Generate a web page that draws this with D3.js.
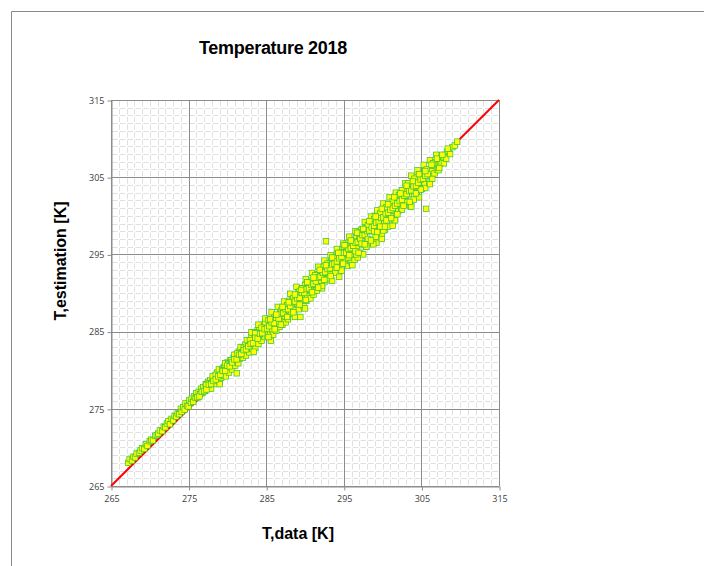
<!DOCTYPE html>
<html>
<head>
<meta charset="utf-8">
<script src="https://cdn.jsdelivr.net/npm/d3@7"></script>
<style>
  body { margin: 0; background: #fff; }
  svg { display: block; }
</style>
</head>
<body>
<script>
// axis ticks (K)
const tickValues = [265, 275, 285, 295, 305, 315];

const tData = [
  267.2, 267.4, 267.7, 267.9, 268.1, 268.3, 268.6, 268.8, 269.0, 269.3,
  269.5, 269.7, 270.0, 270.2, 270.4, 270.7, 270.9, 271.1, 271.3, 271.6,
  271.8, 272.0, 272.2, 272.4, 272.6, 272.8, 273.0, 273.2, 273.4, 273.6,
  273.8, 274.0, 274.1, 274.3, 274.5, 274.6, 274.8, 275.0, 275.1, 275.3,
  275.4, 275.6, 275.7, 275.9, 276.0, 276.2, 276.3, 276.5, 276.6, 276.8,
  276.9, 277.1, 277.2, 277.4, 277.5, 277.6, 277.8, 277.9, 278.0, 278.2,
  278.3, 278.4, 278.6, 278.7, 278.8, 279.0, 279.1, 279.2, 279.4, 279.5,
  279.6, 279.8, 279.9, 280.0, 280.2, 280.3, 280.4, 280.6, 280.7, 280.8,
  281.0, 281.1, 281.2, 281.4, 281.5, 281.6, 281.8, 281.9, 282.0, 282.2,
  282.3, 282.4, 282.6, 282.7, 282.8, 283.0, 283.1, 283.2, 283.4, 283.5,
  283.6, 283.8, 283.9, 284.0, 284.2, 284.3, 284.4, 284.6, 284.7, 284.8,
  285.0, 285.1, 285.2, 285.4, 285.5, 285.6, 285.8, 285.9, 286.0, 286.2,
  286.3, 286.4, 286.6, 286.7, 286.8, 287.0, 287.1, 287.2, 287.4, 287.5,
  287.6, 287.8, 287.9, 288.0, 288.2, 288.3, 288.4, 288.6, 288.7, 288.8,
  289.0, 289.1, 289.2, 289.4, 289.5, 289.6, 289.8, 289.9, 290.0, 290.2,
  290.3, 290.4, 290.6, 290.7, 290.8, 291.0, 291.1, 291.2, 291.4, 291.5,
  291.6, 291.8, 291.9, 292.0, 292.2, 292.3, 292.4, 292.6, 292.7, 292.8,
  293.0, 293.1, 293.2, 293.4, 293.5, 293.6, 293.8, 293.9, 294.0, 294.2,
  294.3, 294.4, 294.6, 294.7, 294.8, 295.0, 295.1, 295.2, 295.4, 295.5,
  295.6, 295.8, 295.9, 296.0, 296.2, 296.3, 296.4, 296.6, 296.7, 296.8,
  297.0, 297.1, 297.2, 297.4, 297.5, 297.6, 297.8, 297.9, 298.0, 298.2,
  298.3, 298.4, 298.6, 298.7, 298.8, 299.0, 299.1, 299.2, 299.4, 299.5,
  299.6, 299.8, 299.9, 300.0, 300.2, 300.3, 300.4, 300.6, 300.7, 300.8,
  301.0, 301.1, 301.2, 301.4, 301.5, 301.6, 301.8, 301.9, 302.0, 302.2,
  302.3, 302.4, 302.6, 302.7, 302.8, 303.0, 303.1, 303.2, 303.4, 303.5,
  303.6, 303.8, 303.9, 304.0, 304.2, 304.3, 304.4, 304.6, 304.7, 304.8,
  305.0, 305.1, 305.2, 305.4, 305.5, 305.6, 305.8, 305.9, 306.0, 306.2,
  306.3, 306.4, 306.6, 306.7, 306.8, 307.0, 307.1, 307.2, 307.4, 307.5,
  307.6, 307.8, 307.9, 308.0, 308.2, 308.3, 308.5, 308.7, 309.0, 309.3,
  309.6, 307.2, 306.5, 303.3, 301.7, 299.0, 297.3, 295.3, 291.3, 289.3,
  277.3, 277.7, 278.1, 278.5, 278.9, 279.3, 279.7, 280.1, 280.5, 280.9,
  281.3, 281.7, 282.1, 282.5, 282.9, 283.3, 283.7, 284.1, 284.5, 284.9,
  283.1, 283.6, 284.0, 284.4, 284.9, 285.3, 285.7, 286.1, 286.5, 286.9,
  287.3, 287.7, 288.1, 288.5, 288.9, 289.3, 289.7, 290.1, 290.5, 290.9,
  291.3, 291.7, 292.1, 292.5, 292.9, 293.3, 293.7, 294.1, 294.5, 294.9,
  295.3, 295.7, 296.1, 296.5, 296.9, 297.3, 297.7, 298.1, 298.5, 298.9,
  299.3, 299.7, 300.1, 300.5, 300.9, 301.3, 301.7, 302.1, 302.5, 302.9,
  303.3, 303.7, 304.1, 304.5, 304.9, 305.3, 305.7, 306.1, 306.5, 306.9,
  279.0, 281.2, 283.4, 285.6, 287.8, 290.0, 292.2, 294.4, 296.6, 298.8,
  300.1, 301.3, 302.5, 303.7, 304.9, 306.1, 307.3, 296.1, 297.9, 299.9,
  276.1, 276.4, 276.7, 277.0, 277.3, 277.6, 277.9, 278.2, 278.5, 278.8,
  279.1, 279.4, 279.7, 280.0, 280.3, 280.6, 280.9, 281.2, 281.5, 281.8,
  282.1, 282.4, 282.7, 283.0, 283.3, 283.6, 283.9, 284.2, 284.5, 284.8,
  285.1, 285.4, 285.7, 286.0, 286.3, 286.6, 286.9, 287.2, 287.5, 287.8,
  288.1, 288.4, 288.7, 289.0, 289.3, 289.6, 289.9, 290.2, 290.5, 290.8,
  291.1, 291.4, 291.7, 292.0, 292.3, 292.6, 292.9, 293.2, 293.5, 293.8,
  294.1, 294.4, 294.7, 295.0, 295.3, 295.6, 295.9, 296.2, 296.5, 296.8,
  297.1, 297.4, 297.7, 298.0, 298.3, 298.6, 298.9, 299.2, 299.5, 299.8,
  300.1, 300.4, 300.7, 301.0, 301.3, 301.6, 301.9, 302.2, 302.5, 302.8,
  303.1, 303.4, 303.7, 304.0, 304.3, 304.6, 304.9, 305.2, 305.5, 305.8,
  285.3, 286.1, 286.9, 287.7, 288.5, 289.3, 290.1, 290.9, 291.7, 292.5,
  293.3, 294.1, 294.9, 295.7, 296.5, 297.3, 298.1, 298.9, 299.7, 300.5,
  285.5, 286.3, 287.1, 287.9, 288.7, 289.5, 290.3, 291.1, 291.9, 292.7,
  293.5, 294.3, 295.1, 295.9, 296.7, 297.5, 298.3, 299.1, 299.9, 300.7,
  301.5, 302.3, 303.1, 303.9, 304.7, 305.5, 306.3, 307.0, 307.7, 308.4,
  296.9, 297.7, 298.5, 299.3, 300.3, 301.1, 301.9, 302.7, 303.5, 304.3
];
const tEst = [
  268.0, 268.5, 268.3, 268.8, 268.7, 269.2, 269.3, 269.6, 269.9, 269.8,
  270.4, 270.2, 270.8, 271.0, 270.9, 271.5, 271.6, 271.8, 272.2, 272.1,
  272.7, 272.6, 273.1, 273.4, 273.0, 273.7, 273.5, 274.1, 274.0, 274.4,
  274.3, 275.0, 274.6, 275.2, 274.9, 275.7, 275.4, 275.3, 276.1, 275.8,
  276.3, 275.9, 276.6, 276.4, 277.0, 276.5, 277.2, 276.9, 277.6, 277.1,
  277.8, 277.3, 278.2, 277.6, 278.5, 277.9, 278.7, 277.6, 278.4, 279.0,
  278.6, 279.1, 278.2, 279.7, 278.9, 278.5, 279.8, 279.0, 280.2, 279.3,
  280.4, 279.2, 280.0, 281.0, 279.7, 280.6, 281.3, 280.1, 280.8, 281.6,
  280.6, 282.0, 281.2, 280.9, 282.4, 281.5, 282.1, 283.0, 281.6, 282.5,
  283.3, 281.9, 282.7, 283.7, 282.3, 283.1, 284.3, 282.8, 283.6, 284.6,
  282.9, 284.1, 285.2, 283.4, 284.6, 285.6, 283.8, 284.9, 285.9, 284.3,
  285.9, 284.5, 285.0, 286.4, 284.9, 286.1, 285.2, 284.6, 286.8, 285.7,
  285.1, 287.0, 286.2, 285.6, 287.5, 286.3, 285.9, 288.1, 287.0, 286.2,
  288.4, 286.8, 287.7, 289.0, 287.3, 288.1, 289.4, 287.8, 286.9, 289.0,
  288.6, 290.1, 287.9, 286.9, 289.2, 290.6, 288.3, 289.7, 291.0, 289.0,
  289.6, 291.3, 290.4, 289.3, 291.6, 290.9, 289.8, 292.0, 291.1, 290.3,
  292.4, 290.9, 291.6, 293.0, 290.6, 292.2, 293.4, 291.5, 296.7, 292.5,
  293.8, 291.9, 292.8, 294.4, 291.6, 293.1, 294.7, 292.6, 293.7, 295.1,
  293.3, 294.2, 295.6, 292.9, 294.6, 296.0, 293.8, 294.4, 295.9, 293.5,
  294.6, 296.4, 295.0, 293.9, 296.8, 295.5, 294.3, 297.2, 295.8, 294.6,
  296.9, 295.2, 297.9, 296.2, 295.0, 297.4, 298.4, 296.0, 297.0, 298.6,
  296.5, 298.0, 299.3, 296.9, 298.4, 299.7, 297.3, 296.5, 298.7, 300.0,
  298.1, 299.6, 297.7, 300.6, 299.0, 298.2, 301.0, 299.5, 298.6, 300.4,
  301.5, 299.9, 300.7, 302.0, 299.5, 299.4, 301.2, 302.4, 300.6, 301.7,
  302.9, 300.9, 302.2, 303.3, 301.4, 302.6, 303.9, 301.8, 302.8, 304.1,
  301.2, 303.2, 304.4, 302.1, 303.7, 305.0, 302.9, 304.2, 302.4, 303.4,
  304.6, 303.5, 305.3, 304.2, 303.6, 300.9, 305.2, 306.0, 304.3, 305.4,
  305.8, 304.8, 306.5, 305.5, 306.9, 306.0, 307.3, 305.9, 306.7, 307.6,
  306.9, 307.6, 306.8, 307.9, 307.4, 308.3, 308.4, 308.0, 308.9, 309.1,
  309.6, 307.8, 306.9, 304.1, 302.6, 300.0, 298.2, 296.4, 292.4, 290.6,
  278.1, 278.3, 279.2, 279.4, 280.1, 280.0, 280.9, 280.8, 281.3, 282.0,
  282.2, 283.0, 282.9, 283.9, 283.9, 284.9, 284.4, 285.6, 285.3, 286.2,
  284.9, 284.8, 285.9, 285.5, 286.7, 286.5, 287.5, 286.9, 288.2, 287.7,
  288.9, 288.4, 289.9, 289.3, 290.8, 290.2, 290.6, 291.8, 291.4, 292.6,
  292.3, 293.4, 292.9, 294.2, 293.8, 294.9, 294.6, 295.7, 295.2, 296.4,
  296.2, 297.3, 296.7, 298.0, 297.8, 298.2, 299.2, 298.8, 299.9, 299.6,
  300.7, 300.3, 301.6, 301.1, 302.4, 301.9, 303.0, 302.7, 303.3, 304.2,
  304.2, 305.2, 304.8, 305.9, 305.4, 306.6, 306.0, 307.2, 306.8, 307.9,
  278.2, 279.6, 282.4, 283.8, 286.6, 288.0, 290.9, 292.1, 295.0, 296.3,
  298.1, 298.7, 300.8, 301.2, 303.4, 304.1, 306.2, 293.6, 296.0, 297.0,
  276.5, 276.6, 277.2, 277.3, 277.5, 278.1, 278.2, 278.6, 278.8, 279.2,
  279.4, 279.9, 279.9, 280.6, 280.5, 281.0, 281.4, 281.4, 282.0, 282.1,
  282.6, 282.7, 283.1, 283.4, 283.5, 284.2, 284.1, 284.7, 284.8, 285.3,
  285.4, 285.7, 286.2, 286.1, 286.8, 286.7, 287.3, 287.4, 287.9, 287.9,
  288.3, 288.8, 288.9, 289.3, 289.4, 290.0, 290.0, 290.5, 290.6, 291.1,
  291.2, 291.5, 292.0, 292.1, 292.6, 292.7, 293.1, 293.2, 293.7, 293.8,
  294.1, 294.5, 294.7, 295.2, 295.2, 295.7, 295.8, 296.1, 296.5, 296.6,
  297.0, 297.5, 297.5, 298.0, 298.1, 298.5, 298.7, 299.1, 299.2, 299.7,
  299.8, 300.3, 300.4, 300.8, 301.0, 301.3, 301.6, 301.9, 302.1, 302.6,
  302.8, 303.2, 303.3, 303.8, 303.9, 304.3, 304.7, 304.8, 305.2, 305.4,
  284.3, 285.3, 285.9, 286.9, 287.5, 288.5, 289.1, 290.1, 290.7, 291.7,
  292.2, 293.3, 293.8, 294.9, 295.4, 296.4, 297.0, 298.0, 298.6, 299.4,
  286.6, 287.2, 288.2, 288.8, 289.8, 290.4, 291.4, 292.0, 293.0, 293.6,
  294.6, 295.2, 296.2, 296.8, 297.8, 298.3, 299.3, 299.9, 300.9, 301.5,
  302.4, 302.9, 303.9, 304.5, 305.4, 305.8, 306.6, 307.4, 307.9, 308.7,
  295.2, 296.3, 296.8, 297.9, 298.6, 299.7, 300.2, 301.3, 301.8, 302.9
];

const width = 704;
const height = 566;
const margin = { top: 100, right: 205, bottom: 80, left: 111 };
const innerWidth = width - margin.left - margin.right;
const innerHeight = height - margin.top - margin.bottom;

const svg = d3.select('body').append('svg')
  .attr('width', width)
  .attr('height', height);

svg.append('rect')
  .attr('width', width)
  .attr('height', height)
  .attr('fill', '#fff');

// outer frame (top and left edges only visible)
svg.append('path')
  .attr('d', `M11.5,${height} V11.5 H${width}`)
  .attr('fill', 'none')
  .attr('stroke', '#8a8a8a')
  .attr('stroke-width', 1);

const xScale = d3.scaleLinear().domain([265, 315]).range([0, innerWidth]);
const yScale = d3.scaleLinear().domain([265, 315]).range([innerHeight, 0]);

const g = svg.append('g')
  .attr('transform', `translate(${margin.left}, ${margin.top})`);

// minor grid every 1 K, dashed so that gaps sit on the crossings
const minor = d3.range(266, 315).filter(v => (v - 265) % 10 !== 0);
const cellX = xScale(266) - xScale(265);
const cellY = yScale(265) - yScale(266);

g.append('g').selectAll('line').data(minor)
  .enter().append('line')
  .attr('x1', d => Math.round(xScale(d)) + 0.5)
  .attr('x2', d => Math.round(xScale(d)) + 0.5)
  .attr('y1', 0)
  .attr('y2', innerHeight)
  .attr('stroke', '#e0e0e0')
  .attr('stroke-dasharray', `${cellY - 2.4} 2.4`)
  .attr('stroke-dashoffset', cellY - 1.2);

g.append('g').selectAll('line').data(minor)
  .enter().append('line')
  .attr('y1', d => Math.round(yScale(d)) + 0.5)
  .attr('y2', d => Math.round(yScale(d)) + 0.5)
  .attr('x1', 0)
  .attr('x2', innerWidth)
  .attr('stroke', '#e0e0e0')
  .attr('stroke-dasharray', `${cellX - 2.4} 2.4`)
  .attr('stroke-dashoffset', cellX - 1.2);

// major grid every 10 K
g.append('g').selectAll('line').data(tickValues)
  .enter().append('line')
  .attr('x1', d => Math.round(xScale(d)) + 0.5)
  .attr('x2', d => Math.round(xScale(d)) + 0.5)
  .attr('y1', 0)
  .attr('y2', innerHeight)
  .attr('stroke', '#8c8c8c');

g.append('g').selectAll('line').data(tickValues)
  .enter().append('line')
  .attr('y1', d => Math.round(yScale(d)) + 0.5)
  .attr('y2', d => Math.round(yScale(d)) + 0.5)
  .attr('x1', 0)
  .attr('x2', innerWidth)
  .attr('stroke', '#8c8c8c');

// axes
const xAxis = d3.axisBottom(xScale).tickValues(tickValues).tickSize(4).tickSizeOuter(0);
const yAxis = d3.axisLeft(yScale).tickValues(tickValues).tickSize(4).tickSizeOuter(0);

const xAxisG = g.append('g')
  .attr('transform', `translate(0.5, ${innerHeight + 0.5})`)
  .call(xAxis);
const yAxisG = g.append('g')
  .attr('transform', 'translate(0.5, 0.5)')
  .call(yAxis);

[xAxisG, yAxisG].forEach(ax => {
  ax.select('.domain').attr('stroke', '#8c8c8c');
  ax.selectAll('.tick line').attr('stroke', '#8c8c8c');
  ax.selectAll('.tick text')
    .attr('fill', '#404040')
    .style('font-family', '"Open Sans", "Liberation Sans", sans-serif')
    .style('font-size', '9px');
});
xAxisG.selectAll('.tick text').attr('y', 9);
yAxisG.selectAll('.tick text').attr('x', -7);

// 1:1 line
g.append('line')
  .attr('x1', xScale(265))
  .attr('y1', yScale(265))
  .attr('x2', xScale(315))
  .attr('y2', yScale(315))
  .attr('stroke', '#ff0000')
  .attr('stroke-width', 2);

// scatter markers
const size = 5.5;
g.append('g').selectAll('rect').data(tData)
  .enter().append('rect')
  .attr('x', (d, i) => xScale(d) - size / 2)
  .attr('y', (d, i) => yScale(tEst[i]) - size / 2)
  .attr('width', size)
  .attr('height', size)
  .attr('fill', '#ffff00')
  .attr('stroke', '#3cc43c')
  .attr('stroke-width', 0.75);

// labels
const labelFont = '"Liberation Sans", Arial, sans-serif';

svg.append('text')
  .attr('x', 273)
  .attr('y', 54)
  .attr('text-anchor', 'middle')
  .style('font-family', labelFont)
  .style('font-weight', 'bold')
  .style('font-size', '18px')
  .style('letter-spacing', '-0.3px')
  .text('Temperature 2018');

svg.append('text')
  .attr('x', 298)
  .attr('y', 539)
  .attr('text-anchor', 'middle')
  .style('font-family', labelFont)
  .style('font-weight', 'bold')
  .style('font-size', '16px')
  .text('T,data [K]');

svg.append('text')
  .attr('transform', 'translate(66, 261) rotate(-90)')
  .attr('text-anchor', 'middle')
  .style('font-family', labelFont)
  .style('font-weight', 'bold')
  .style('font-size', '16px')
  .text('T,estimation [K]');
</script>
</body>
</html>
